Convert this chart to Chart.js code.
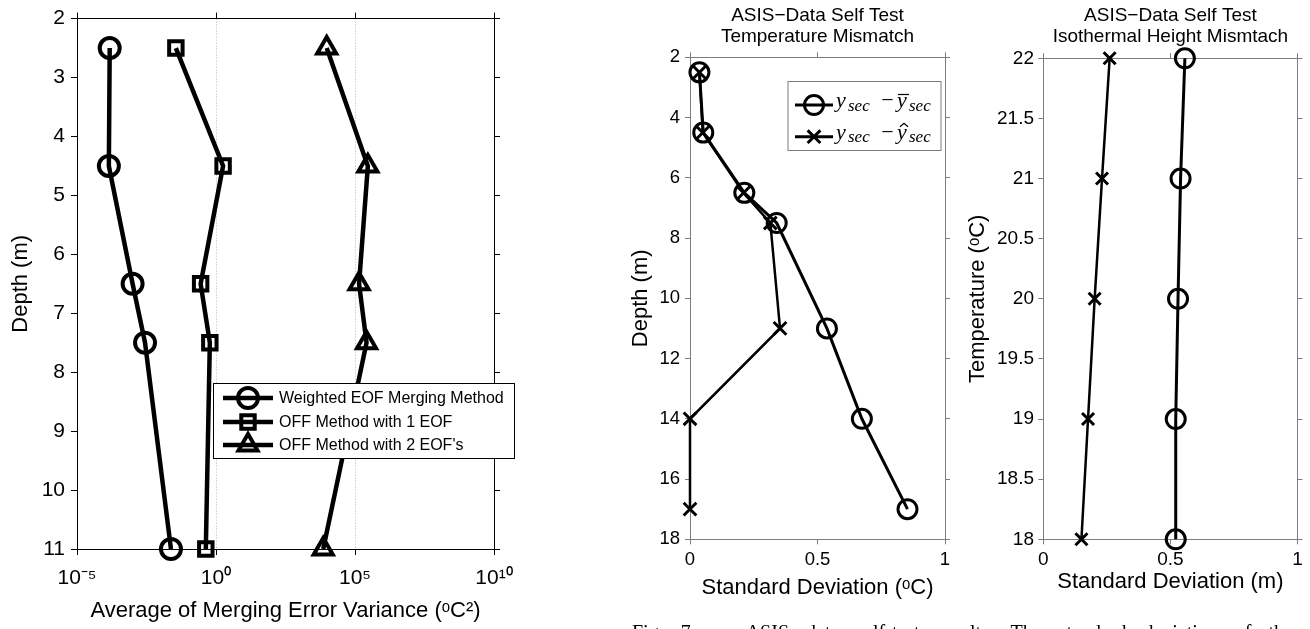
<!DOCTYPE html>
<html>
<head>
<meta charset="utf-8">
<script src="https://cdn.jsdelivr.net/npm/chart.js@4.4.1/dist/chart.umd.min.js"></script>
<style>
html,body{margin:0;padding:0;background:#fff;width:1310px;height:629px;overflow:hidden;position:relative;}
canvas{position:absolute;top:0;}
#c1{left:0;width:560px;height:629px;}
#c2{left:600px;width:360px;height:629px;}
#c3{left:960px;width:350px;height:629px;}
#cap{position:absolute;left:632px;width:661px;top:621px;font-family:'Liberation Serif','Times New Roman',serif;font-size:20px;line-height:22px;text-align:justify;text-align-last:justify;white-space:nowrap;color:#000;}
</style>
</head>
<body>
<canvas id="c1" width="560" height="629"></canvas>
<canvas id="c2" width="360" height="629"></canvas>
<canvas id="c3" width="350" height="629"></canvas>
<div id="cap">Fig. 7.&nbsp;&nbsp; ASIS data self-test results. The standard deviation of the</div>
<script>
// ---------- DATA ----------
// Panel 1: average merging error variance vs depth
const depth1 = [2.5, 4.5, 6.5, 7.5, 11];
const weightedEOF = [1.5e-4, 1.4e-4, 1.0e-3, 2.8e-3, 0.024];
const offMethod1EOF = [0.036, 1.8, 0.28, 0.6, 0.43];
const offMethod2EOF = [9.6e3, 2.9e5, 1.4e5, 2.6e5, 7.2e3];
const xTicks1 = [1e-5, 1, 1e5, 1e10];
const xTickLabels1 = ['10⁻⁵', '10⁰', '10⁵', '10¹⁰'];
const legend1 = ['Weighted EOF Merging Method', 'OFF Method with 1 EOF', "OFF Method with 2 EOF's"];

// Panel 2: temperature mismatch
const depth2 = [2.5, 4.5, 6.5, 7.5, 11, 14, 17];
const sdTempMean = [0.037, 0.052, 0.213, 0.340, 0.537, 0.674, 0.853];
const sdTempHat = [0.037, 0.050, 0.210, 0.315, 0.353, 0.0, 0.0];

// Panel 3: isothermal height mismatch
const temp3 = [22, 21, 20, 19, 18];
const sdHeightMean = [0.557, 0.540, 0.530, 0.521, 0.521];
const sdHeightHat = [0.261, 0.231, 0.202, 0.176, 0.150];

const panelTitle2 = ['ASIS\u2212Data Self Test', 'Temperature Mismatch'];
const panelTitle3 = ['ASIS\u2212Data Self Test', 'Isothermal Height Mismtach'];

// ---------- SETUP ----------
const SANS = "'Liberation Sans', Arial, Helvetica, sans-serif";
Chart.defaults.font.family = SANS;
Chart.defaults.color = '#000';
Chart.defaults.animation = false;

function pts(xs, ys) { return ys.map((y, i) => ({x: xs[i], y: y})); }
const plainNum = v => String(Math.round(v * 100) / 100);

function drawMarker(ctx, style, r, bw, x, y) {
  ctx.save();
  ctx.lineWidth = bw;
  ctx.strokeStyle = '#000';
  ctx.fillStyle = 'rgba(0,0,0,0)';
  Chart.helpers.drawPoint(ctx, {pointStyle: style, radius: r, borderWidth: bw, rotation: 0}, x, y);
  ctx.restore();
}

// ---------- PANEL 1 ----------
const GRAY_DOT = '#b4b4b4';
const legendPlugin1 = {
  id: 'legend1',
  afterDraw(chart) {
    const ctx = chart.ctx;
    const L = 213, T = 383, R = 515, B = 459;
    ctx.save();
    ctx.fillStyle = '#fff';
    ctx.fillRect(L, T, R - L, B - T);
    ctx.strokeStyle = '#000';
    ctx.lineWidth = 1;
    ctx.strokeRect(L + 0.5, T + 0.5, R - L - 1, B - T - 1);
    const rows = [398, 422, 445];
    chart.data.datasets.forEach((ds, i) => {
      const y = rows[i];
      ctx.strokeStyle = '#000';
      ctx.lineWidth = 4.5;
      ctx.beginPath(); ctx.moveTo(223, y); ctx.lineTo(273, y); ctx.stroke();
      drawMarker(ctx, ds.pointStyle, ds.pointRadius, ds.pointBorderWidth, 248, y);
      ctx.fillStyle = '#000';
      ctx.font = '16px ' + SANS;
      ctx.textBaseline = 'middle';
      ctx.textAlign = 'left';
      ctx.fillText(ds.label, 279, y + 1);
    });
    ctx.restore();
  }
};

const decadeTicks = s => { s.ticks = xTicks1.map(v => ({value: v})); };

new Chart(document.getElementById('c1'), {
  type: 'scatter',
  data: {
    datasets: [
      {label: legend1[0], data: pts(weightedEOF, depth1), pointStyle: 'circle', pointRadius: 10},
      {label: legend1[1], data: pts(offMethod1EOF, depth1), pointStyle: 'rect', pointRadius: 9.5},
      {label: legend1[2], data: pts(offMethod2EOF, depth1), pointStyle: 'triangle', pointRadius: 11}
    ].map(d => Object.assign(d, {
      showLine: true, borderColor: '#000', borderWidth: 4.5, pointBorderWidth: 4,
      pointBorderColor: '#000', pointBackgroundColor: 'rgba(0,0,0,0)', pointHoverRadius: d.pointRadius, clip: false
    }))
  },
  options: {
    responsive: false,
    layout: {padding: 0},
    plugins: {legend: {display: false}, tooltip: {enabled: false}},
    scales: {
      x: {
        type: 'logarithmic', position: 'bottom', min: 1e-5, max: 1e10,
        afterBuildTicks: decadeTicks,
        ticks: {callback: (v, i) => xTickLabels1[i], font: {size: 21}, color: '#000', padding: 11, maxRotation: 0, autoSkip: false},
        grid: {display: true, drawOnChartArea: true, color: GRAY_DOT, lineWidth: 1, drawTicks: true, tickLength: 6, tickColor: '#000', tickWidth: 1},
        border: {display: true, color: '#000', width: 1, dash: [1, 2]},
        title: {display: true, text: 'Average of Merging Error Variance (ᵒC²)', font: {size: 22}, color: '#000', padding: {top: 0, bottom: 5}},
        afterFit: s => { s.height = 80; }
      },
      x2: {
        type: 'logarithmic', position: 'top', min: 1e-5, max: 1e10,
        afterBuildTicks: decadeTicks,
        ticks: {display: false},
        grid: {display: true, drawOnChartArea: false, drawTicks: true, tickLength: 6, tickColor: '#000'},
        border: {display: true, color: '#000'},
        afterFit: s => { s.height = 14; }
      },
      y: {
        type: 'linear', position: 'left', reverse: true, min: 2, max: 11,
        ticks: {stepSize: 1, font: {size: 21}, color: '#000', padding: 6},
        grid: {display: true, drawOnChartArea: false, drawTicks: true, tickLength: 6, tickColor: '#000'},
        border: {display: true, color: '#000'},
        title: {display: true, text: 'Depth (m)', font: {size: 22}, color: '#000', padding: {top: 8, bottom: 0}},
        afterFit: s => { s.width = 77; }
      },
      y2: {
        type: 'linear', position: 'right', reverse: true, min: 2, max: 11,
        ticks: {display: false, stepSize: 1},
        grid: {display: true, drawOnChartArea: false, drawTicks: true, tickLength: 6, tickColor: '#000'},
        border: {display: true, color: '#000'},
        afterFit: s => { s.width = 66; }
      }
    }
  },
  plugins: [legendPlugin1]
});

// ---------- PANELS 2 & 3 ----------
const AXIS_GRAY = '#7d7d7d';

function drawMathLabel(ctx, x, base, accent) {
  const main = "italic 22px 'Liberation Serif', 'Times New Roman', serif";
  const sub = "italic 17px 'Liberation Serif', 'Times New Roman', serif";
  ctx.save();
  ctx.fillStyle = '#000';
  ctx.strokeStyle = '#000';
  ctx.textBaseline = 'alphabetic';
  ctx.textAlign = 'left';
  ctx.font = main; ctx.fillText('y', x, base);
  ctx.font = sub; ctx.fillText('sec', x + 12, base + 3.5);
  ctx.font = "22px 'Liberation Serif', 'Times New Roman', serif";
  ctx.textAlign = 'center'; ctx.fillText('\u2212', x + 51.5, base);
  ctx.textAlign = 'left';
  ctx.font = main; ctx.fillText('y', x + 61, base);
  ctx.lineWidth = 1.2;
  if (accent === 'bar') {
    ctx.beginPath(); ctx.moveTo(x + 62, base - 12.5); ctx.lineTo(x + 73, base - 12.5); ctx.stroke();
  } else {
    ctx.beginPath(); ctx.moveTo(x + 64, base - 12); ctx.lineTo(x + 68, base - 15.5); ctx.lineTo(x + 72, base - 12); ctx.stroke();
  }
  ctx.font = sub; ctx.fillText('sec', x + 73, base + 3.5);
  ctx.restore();
}

const legendPlugin2 = {
  id: 'legend2',
  afterDraw(chart) {
    const ctx = chart.ctx;
    const ox = 600;
    const L = 787.5 - ox, T = 81, R = 941.5 - ox, B = 151;
    ctx.save();
    ctx.fillStyle = '#fff';
    ctx.fillRect(L, T, R - L, B - T);
    ctx.strokeStyle = AXIS_GRAY;
    ctx.lineWidth = 1;
    ctx.strokeRect(L + 0.5, T + 0.5, R - L - 1, B - T - 1);
    const rows = [105, 136.7];
    const accents = ['bar', 'hat'];
    chart.data.datasets.forEach((ds, i) => {
      const y = rows[i];
      ctx.strokeStyle = '#000';
      ctx.lineWidth = 3;
      ctx.beginPath(); ctx.moveTo(795 - ox, y); ctx.lineTo(833 - ox, y); ctx.stroke();
      drawMarker(ctx, ds.pointStyle, ds.pointRadius, ds.pointBorderWidth, 814 - ox, y);
      drawMathLabel(ctx, 836 - ox, y + 2, accents[i]);
    });
    ctx.restore();
  }
};

function grayAxis(extra) {
  return Object.assign({
    grid: {display: true, drawOnChartArea: false, drawTicks: true, tickLength: 5, tickColor: AXIS_GRAY, color: AXIS_GRAY},
    border: {display: true, color: AXIS_GRAY, width: 1}
  }, extra);
}

function profileDatasets(xsA, xsB, ys, lwA, lwB, rA, rB) {
  return [
    {label: 'mean', data: pts(xsA, ys), pointStyle: 'circle', pointRadius: rA, borderWidth: lwA, pointBorderWidth: 3},
    {label: 'hat', data: pts(xsB, ys), pointStyle: 'crossRot', pointRadius: rB, borderWidth: lwB, pointBorderWidth: 3}
  ].map(d => Object.assign(d, {
    showLine: true, borderColor: '#000', pointBorderColor: '#000',
    pointBackgroundColor: 'rgba(0,0,0,0)', pointHoverRadius: d.pointRadius, clip: false
  }));
}

// Panel 2
new Chart(document.getElementById('c2'), {
  type: 'scatter',
  data: {datasets: profileDatasets(sdTempMean, sdTempHat, depth2, 3, 2.5, 9.5, 9)},
  options: {
    responsive: false,
    layout: {padding: 0},
    plugins: {
      legend: {display: false}, tooltip: {enabled: false},
      title: {display: true, fullSize: false, text: panelTitle2, font: {size: 19, weight: 'normal', lineHeight: 1.1}, color: '#000', padding: {top: 5, bottom: 0}}
    },
    scales: {
      x: grayAxis({
        type: 'linear', position: 'bottom', min: 0, max: 1,
        ticks: {stepSize: 0.5, callback: plainNum, font: {size: 18.5}, color: '#000', padding: 4.5, maxRotation: 0},
        title: {display: true, text: 'Standard Deviation (ᵒC)', font: {size: 22}, color: '#000', padding: {top: 0, bottom: 28}},
        afterFit: s => { s.height = 89.7; }
      }),
      x2: grayAxis({
        type: 'linear', position: 'top', min: 0, max: 1,
        ticks: {display: false, stepSize: 0.5},
        afterFit: s => { s.height = 10.5; }
      }),
      y: grayAxis({
        type: 'linear', position: 'left', reverse: true, min: 2, max: 18,
        ticks: {stepSize: 2, callback: plainNum, font: {size: 18.5}, color: '#000', padding: 5},
        title: {display: true, text: 'Depth (m)', font: {size: 22}, color: '#000', padding: {top: 28, bottom: 0}},
        afterFit: s => { s.width = 90; }
      }),
      y2: grayAxis({
        type: 'linear', position: 'right', reverse: true, min: 2, max: 18,
        ticks: {display: false, stepSize: 2},
        afterFit: s => { s.width = 15; }
      })
    }
  },
  plugins: [legendPlugin2]
});

// Panel 3
new Chart(document.getElementById('c3'), {
  type: 'scatter',
  data: {datasets: profileDatasets(sdHeightMean, sdHeightHat, temp3, 3, 2.5, 9.5, 8.5)},
  options: {
    responsive: false,
    layout: {padding: 0},
    plugins: {
      legend: {display: false}, tooltip: {enabled: false},
      title: {display: true, fullSize: false, text: panelTitle3, font: {size: 19, weight: 'normal', lineHeight: 1.1}, color: '#000', padding: {top: 5, bottom: 0}}
    },
    scales: {
      x: grayAxis({
        type: 'linear', position: 'bottom', min: 0, max: 1,
        ticks: {stepSize: 0.5, callback: plainNum, font: {size: 19}, color: '#000', padding: 4.3, maxRotation: 0},
        title: {display: true, text: 'Standard Deviation (m)', font: {size: 22}, color: '#000', padding: {top: 0, bottom: 34}},
        afterFit: s => { s.height = 89.7; }
      }),
      x2: grayAxis({
        type: 'linear', position: 'top', min: 0, max: 1,
        ticks: {display: false, stepSize: 0.5},
        afterFit: s => { s.height = 11.5; }
      }),
      y: grayAxis({
        type: 'linear', position: 'left', min: 18, max: 22,
        ticks: {stepSize: 0.5, callback: plainNum, font: {size: 19}, color: '#000', padding: 4.3},
        title: {display: true, text: 'Temperature (ᵒC)', font: {size: 22}, color: '#000', padding: {top: 5, bottom: 0}},
        afterFit: s => { s.width = 83.3; }
      }),
      y2: grayAxis({
        type: 'linear', position: 'right', min: 18, max: 22,
        ticks: {display: false, stepSize: 0.5},
        afterFit: s => { s.width = 10.7; }
      })
    }
  }
});
</script>
</body>
</html>
